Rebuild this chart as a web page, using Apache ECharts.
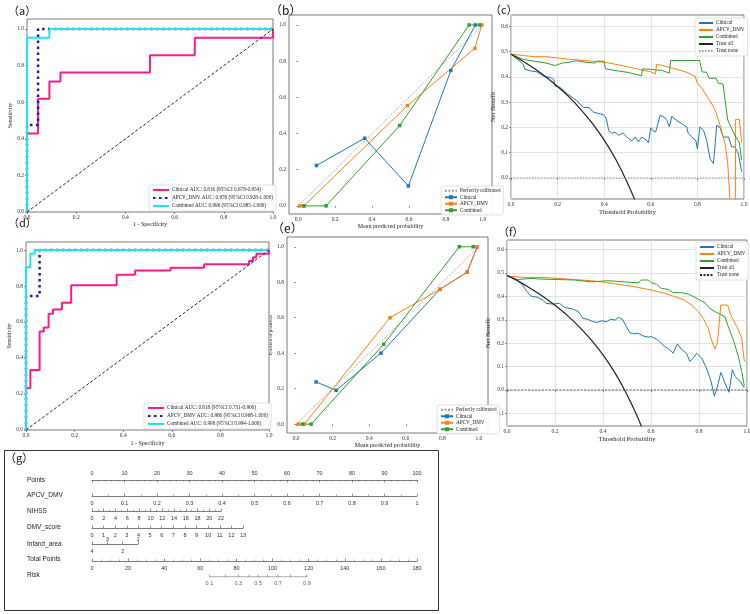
<!DOCTYPE html>
<html>
<head>
<meta charset="utf-8">
<script src="https://cdn.jsdelivr.net/npm/echarts@6/dist/echarts.min.js"></script>
<style>
html, body { margin: 0; padding: 0; background: #fff; }
#main { width: 750px; height: 614px; }
</style>
</head>
<body>
<div id="main"></div>
<script>
var SERIF = "'Liberation Serif', 'Times New Roman', serif";
var SANS = "'Liberation Sans', Arial, sans-serif";
var CJK = "'Noto Sans CJK SC', sans-serif";

// ---- (a) ROC, training ----
var rocA_clin_fpr = [0, 0, 0.045, 0.045, 0.091, 0.091, 0.136, 0.136, 0.5, 0.5, 0.682, 0.682, 1, 1];
var rocA_clin_tpr = [0, 0.429, 0.429, 0.619, 0.619, 0.714, 0.714, 0.762, 0.762, 0.857, 0.857, 0.952, 0.952, 1];
var rocA_apcv_fpr = [0, 0, 0.045, 0.045, 1];
var rocA_apcv_tpr = [0, 0.476, 0.476, 1, 1];
var rocA_comb_fpr = [0, 0, 0.091, 0.091, 1];
var rocA_comb_tpr = [0, 0.952, 0.952, 1, 1];
var rocA_names = ['Clinical AUC: 0.816 (95%CI 0.678-0.954)', 'APCV_DMV AUC: 0.976 (95%CI 0.928-1.000)', 'Combined AUC: 0.996 (95%CI 0.985-1.000)'];

// ---- (d) ROC, validation ----
var rocD_clin_fpr = [0, 0, 0.018, 0.018, 0.056, 0.056, 0.073, 0.073, 0.093, 0.093, 0.111, 0.111, 0.148, 0.148, 0.186, 0.186, 0.373, 0.373, 0.449, 0.449, 0.595, 0.595, 0.733, 0.733, 0.918, 0.918, 0.934, 0.934, 0.948, 0.948, 1, 1];
var rocD_clin_tpr = [0, 0.232, 0.232, 0.333, 0.333, 0.548, 0.548, 0.57, 0.57, 0.646, 0.646, 0.67, 0.67, 0.707, 0.707, 0.804, 0.804, 0.863, 0.863, 0.886, 0.886, 0.902, 0.902, 0.922, 0.922, 0.94, 0.94, 0.96, 0.96, 0.98, 0.98, 1];
var rocD_apcv_fpr = [0, 0, 0.056, 0.056, 1];
var rocD_apcv_tpr = [0, 0.745, 0.745, 1, 1];
var rocD_comb_fpr = [0, 0, 0.018, 0.018, 0.036, 0.036, 1];
var rocD_comb_tpr = [0, 0.905, 0.905, 0.98, 0.98, 1, 1];
var rocD_names = ['Clinical AUC: 0.818 (95%CI 0.731-0.906)', 'APCV_DMV AUC: 0.986 (95%CI 0.968-1.000)', 'Combined AUC: 0.998 (95%CI 0.994-1.000)'];
var diagonal = [[0, 0], [1, 1]];

// ---- (b)/(e) calibration: [mean predicted, fraction of positives] ----
var calB_clin = [[0.099, 0.223], [0.36, 0.374], [0.597, 0.11], [0.827, 0.748], [0.96, 1.0]];
var calB_apcv = [[0.009, 0], [0.031, 0], [0.592, 0.554], [0.957, 0.871], [0.995, 1.0]];
var calB_comb = [[0.031, 0], [0.151, 0], [0.55, 0.444], [0.926, 1.0], [0.984, 1.0]];
var calE_clin = [[0.109, 0.238], [0.219, 0.191], [0.464, 0.4], [0.787, 0.76], [0.936, 0.857], [0.991, 1.0]];
var calE_apcv = [[0.013, 0], [0.045, 0], [0.514, 0.6], [0.787, 0.76], [0.936, 0.857], [0.991, 1.0]];
var calE_comb = [[0.035, 0], [0.082, 0], [0.479, 0.45], [0.893, 1.0], [0.969, 1.0]];
var calNames = ['Perfectly calibrated', 'Clinical', 'APCV_DMV', 'Combined'];

// ---- (c)/(f) decision curves: [threshold, net benefit] ----
var dcaC_clin = [[0, 0.49], [0.05, 0.453], [0.06, 0.43], [0.083, 0.424], [0.111, 0.42], [0.14, 0.403], [0.169, 0.397], [0.183, 0.39], [0.19, 0.363], [0.211, 0.358], [0.24, 0.334], [0.28, 0.308], [0.311, 0.279], [0.334, 0.279], [0.354, 0.261], [0.377, 0.255], [0.397, 0.251], [0.409, 0.235], [0.419, 0.189], [0.433, 0.176], [0.447, 0.182], [0.461, 0.169], [0.48, 0.178], [0.497, 0.162], [0.519, 0.147], [0.533, 0.162], [0.547, 0.143], [0.561, 0.162], [0.583, 0.149], [0.59, 0.139], [0.6, 0.199], [0.611, 0.186], [0.621, 0.182], [0.64, 0.248], [0.657, 0.241], [0.669, 0.228], [0.68, 0.202], [0.69, 0.244], [0.711, 0.228], [0.733, 0.215], [0.754, 0.202], [0.761, 0.176], [0.776, 0.162], [0.793, 0.149], [0.8, 0.116], [0.811, 0.202], [0.826, 0.189], [0.84, 0.149], [0.854, 0.077], [0.869, 0.057], [0.883, 0.209], [0.897, 0.199], [0.911, 0.162], [0.933, 0.162], [0.947, 0.123], [0.961, 0.123], [0.976, 0.096], [0.99, 0.024]];
var dcaC_apcv = [[0, 0.49], [0.05, 0.485], [0.1, 0.48], [0.15, 0.48], [0.2, 0.475], [0.25, 0.47], [0.3, 0.466], [0.35, 0.462], [0.4, 0.458], [0.45, 0.45], [0.5, 0.44], [0.55, 0.43], [0.6, 0.42], [0.62, 0.412], [0.625, 0.45], [0.65, 0.445], [0.7, 0.433], [0.75, 0.42], [0.79, 0.403], [0.8, 0.375], [0.82, 0.355], [0.83, 0.34], [0.85, 0.31], [0.87, 0.28], [0.88, 0.26], [0.9, 0.2], [0.92, 0.13], [0.93, 0.06], [0.94, -0.09], [0.95, -0.3], [0.962, -0.3], [0.964, 0.232], [0.98, 0.232], [0.99, 0.14]];
var dcaC_comb = [[0, 0.49], [0.05, 0.47], [0.1, 0.462], [0.15, 0.455], [0.19, 0.445], [0.22, 0.455], [0.25, 0.458], [0.28, 0.464], [0.32, 0.458], [0.36, 0.455], [0.37, 0.463], [0.4, 0.462], [0.405, 0.432], [0.45, 0.425], [0.5, 0.418], [0.56, 0.405], [0.565, 0.432], [0.6, 0.43], [0.65, 0.425], [0.68, 0.415], [0.685, 0.465], [0.75, 0.465], [0.81, 0.465], [0.82, 0.42], [0.84, 0.418], [0.85, 0.395], [0.88, 0.395], [0.89, 0.375], [0.91, 0.372], [0.93, 0.23], [0.96, 0.17], [0.98, 0.14], [0.99, 0.07]];
var dcaF_clin = [[0, 0.487], [0.045, 0.47], [0.065, 0.448], [0.079, 0.427], [0.1, 0.401], [0.128, 0.396], [0.149, 0.384], [0.163, 0.37], [0.191, 0.367], [0.219, 0.37], [0.24, 0.353], [0.274, 0.346], [0.298, 0.335], [0.316, 0.306], [0.337, 0.302], [0.358, 0.292], [0.376, 0.288], [0.393, 0.296], [0.414, 0.292], [0.432, 0.302], [0.451, 0.299], [0.465, 0.311], [0.483, 0.299], [0.497, 0.271], [0.511, 0.245], [0.529, 0.24], [0.546, 0.243], [0.567, 0.231], [0.588, 0.226], [0.602, 0.228], [0.623, 0.217], [0.636, 0.207], [0.657, 0.186], [0.678, 0.172], [0.692, 0.157], [0.71, 0.197], [0.727, 0.174], [0.748, 0.157], [0.762, 0.122], [0.776, 0.136], [0.79, 0.157], [0.811, 0.136], [0.831, 0.094], [0.85, 0.037], [0.864, -0.027], [0.877, 0.016], [0.891, 0.075], [0.908, 0.03], [0.925, -0.01], [0.939, 0.087], [0.95, 0.058], [0.971, 0.037], [0.989, 0.009]];
var dcaF_apcv = [[0, 0.487], [0.072, 0.481], [0.142, 0.481], [0.212, 0.477], [0.281, 0.472], [0.351, 0.467], [0.393, 0.462], [0.462, 0.452], [0.532, 0.441], [0.602, 0.427], [0.657, 0.413], [0.692, 0.401], [0.734, 0.387], [0.769, 0.363], [0.797, 0.335], [0.818, 0.306], [0.838, 0.264], [0.852, 0.214], [0.866, 0.175], [0.877, 0.203], [0.891, 0.363], [0.919, 0.363], [0.933, 0.321], [0.95, 0.285], [0.964, 0.257], [0.978, 0.221], [0.985, 0.157], [0.989, 0.122]];
var dcaF_comb = [[0, 0.487], [0.045, 0.472], [0.1, 0.477], [0.142, 0.474], [0.212, 0.472], [0.281, 0.47], [0.351, 0.462], [0.421, 0.467], [0.49, 0.462], [0.546, 0.458], [0.56, 0.47], [0.588, 0.47], [0.602, 0.458], [0.623, 0.452], [0.643, 0.434], [0.671, 0.43], [0.692, 0.416], [0.727, 0.416], [0.755, 0.41], [0.783, 0.396], [0.804, 0.384], [0.824, 0.373], [0.845, 0.349], [0.866, 0.335], [0.887, 0.325], [0.908, 0.313], [0.922, 0.271], [0.943, 0.214], [0.964, 0.143], [0.978, 0.079], [0.989, 0.016]];
var treatAll = [[0, 0.49], [0.05, 0.463], [0.1, 0.433], [0.15, 0.4], [0.2, 0.362], [0.25, 0.32], [0.3, 0.271], [0.35, 0.215], [0.4, 0.15], [0.45, 0.073], [0.5, -0.02], [0.55, -0.13], [0.6, -0.27]];
var treatNone = [[0, 0], [1, 0]];
var dcaNames = ['Clinical', 'APCV_DMV', 'Combined', 'Treat all', 'Treat none'];

// ---- (g) nomogram ----
var nomoRows = ['Points', 'APCV_DMV', 'NIHSS', 'DMV_score', 'Infarct_area', 'Total Points', 'Risk'];
var riskVals = [0.1, 0.2, 0.3, 0.4, 0.5, 0.6, 0.7, 0.8, 0.9];
var riskTotalPts = [65, 74, 81, 87, 92, 97, 103, 110, 119];
var riskShown = [0.1, 0.3, 0.5, 0.7, 0.9];

var tick01 = [0, 0.2, 0.4, 0.6, 0.8, 1.0];
var tickC = [0, 0.1, 0.2, 0.3, 0.4, 0.5, 0.6];
var tickF = [-0.1, 0, 0.1, 0.2, 0.3, 0.4, 0.5, 0.6];

function zip(xs, ys) { return xs.map(function (x, i) { return [x, ys[i]]; }); }
function strip(n) { return n.split('|')[1]; }

function plotGrid(l, t, w, h) {
    return {left: l, top: t, width: w, height: h, show: true, borderColor: '#555', borderWidth: 0.8, outerBoundsMode: 'none', containLabel: false};
}
function plotAxis(gi, min, max, ticks, name, gap, split) {
    return {
        type: 'value', gridIndex: gi, min: min, max: max,
        name: name, nameLocation: 'middle', nameGap: gap,
        nameTextStyle: {fontSize: 6, fontFamily: SERIF, color: '#222'},
        axisLine: {show: false},
        axisTick: {show: true, length: 2, customValues: ticks, lineStyle: {color: '#444', width: 0.6}},
        axisLabel: {fontSize: 5.5, fontFamily: SERIF, color: '#333', margin: 3, customValues: ticks,
            formatter: function (v) { return v.toFixed(1); }},
        splitLine: {show: !!split, lineStyle: {color: '#dcdcdc', width: 0.8}}
    };
}
function ln(name, gi, data, color, width, type, extra) {
    var s = {type: 'line', name: name, xAxisIndex: gi, yAxisIndex: gi, data: data, symbol: 'none',
        lineStyle: {color: color, width: width, type: type || 'solid'}, itemStyle: {color: color},
        clip: true, silent: true, z: 2};
    for (var k in extra) s[k] = extra[k];
    return s;
}
// legend entries; lines without markers get their marker hidden
function legendBox(left, top, names, noMarker, gap, lh, iw) {
    var data = names.map(function (n) {
        return noMarker.indexOf(n) >= 0 ? {name: n, itemStyle: {opacity: 0}} : {name: n};
    });
    return {left: left, top: top, orient: 'vertical', data: data, itemWidth: iw, itemHeight: 5, itemGap: gap,
        selectedMode: false, backgroundColor: 'rgba(255,255,255,0.9)', borderColor: '#cfcfcf', borderWidth: 0.6,
        borderRadius: 2, padding: [2, 3, 2, 3], formatter: strip,
        textStyle: {fontSize: 5.2, lineHeight: lh, fontFamily: SERIF, color: '#222', padding: [0, 0, 0, -2]}};
}
function prefixed(p, arr) { return arr.map(function (n) { return p + '|' + n; }); }

var pink = '#ff1a8c', navy = '#1c1c96', cyan = '#19e6ee';
var blue = '#1f77b4', orange = '#ff7f0e', green = '#2ca02c';

var grids = [
    plotGrid(27, 19, 246, 193),   // a
    plotGrid(289, 15, 203, 199),  // b
    plotGrid(511, 15, 233, 184),  // c
    plotGrid(26, 242, 243, 188),  // d
    plotGrid(287, 237, 201, 196), // e
    plotGrid(507, 240, 240, 186)  // f
];
var xAxes = [
    plotAxis(0, 0, 1, tick01, '1 - Specificity', 9),
    plotAxis(1, -0.05, 1.05, tick01, 'Mean predicted probability', 9),
    plotAxis(2, 0, 1, tick01, 'Threshold Probability', 7, true),
    plotAxis(3, 0, 1, tick01, '1 - Specificity', 10),
    plotAxis(4, -0.05, 1.05, tick01, 'Mean predicted probability', 6),
    plotAxis(5, 0, 1, tick01, 'Threshold Probability', 9, true)
];
var yAxes = [
    plotAxis(0, 0, 1.055, tick01, 'Sensitivity', 10),
    plotAxis(1, -0.045, 1.055, tick01, '', 12),
    plotAxis(2, -0.083, 0.645, tickC, 'Net Benefit', 9, true),
    plotAxis(3, 0, 1.045, tick01, 'Sensitivity', 10),
    plotAxis(4, -0.05, 1.055, tick01, 'Fraction of positives', 7),
    plotAxis(5, -0.154, 0.641, tickF, 'Net Benefit', 10, true)
];
xAxes[2].nameTextStyle.fontSize = 6.5; xAxes[5].nameTextStyle.fontSize = 6.5;
yAxes[2].nameTextStyle.fontSize = 6.5; yAxes[5].nameTextStyle.fontSize = 6.5;
yAxes[4].nameTextStyle.fontSize = 5;

// nomogram rows: each row is its own thin grid with its own scale
var nomoLine = {show: true, lineStyle: {color: '#444', width: 0.7}};
var nomoTick = {show: true, inside: true, length: 2.5, lineStyle: {color: '#444', width: 0.6}};
var nomoLabel = {fontSize: 5.5, fontFamily: SANS, color: '#333', margin: 4};
function nomoGrid(l, y, w) {
    return {left: l, top: y - 1, width: w, height: 1, show: false, outerBoundsMode: 'none', containLabel: false};
}
function nomoAxis(gi, min, max, interval, pos, minor, extra) {
    var a = {type: 'value', gridIndex: gi, position: pos, min: min, max: max, interval: interval,
        axisLine: nomoLine, axisTick: nomoTick, axisLabel: nomoLabel, splitLine: {show: false},
        minorTick: {show: !!minor, splitNumber: minor || 5, length: 1.5, lineStyle: {color: '#555', width: 0.5}},
        minorSplitLine: {show: false}};
    for (var k in extra) a[k] = extra[k];
    return a;
}
grids.push(nomoGrid(92, 480, 325));   // 6 Points
grids.push(nomoGrid(92, 496, 325));   // 7 APCV_DMV
grids.push(nomoGrid(92, 511, 129));   // 8 NIHSS
grids.push(nomoGrid(92, 528, 151));   // 9 DMV_score
grids.push(nomoGrid(92, 544, 46));    // 10 Infarct_area
grids.push(nomoGrid(92, 561, 325));   // 11 Total Points
grids.push(nomoGrid(92, 577, 325));   // 12 Risk
grids[6].top = 479;

xAxes.push(nomoAxis(6, 0, 100, 10, 'top', 5, {axisLabel: {fontSize: 5.5, fontFamily: SANS, color: '#333', margin: 3}}));
xAxes.push(nomoAxis(7, 0, 1, 0.1, 'bottom', 2));
xAxes.push(nomoAxis(8, 0, 22, 2, 'bottom', 2));
xAxes.push(nomoAxis(9, 0, 13, 1, 'bottom', 0));
xAxes.push(nomoAxis(10, 1, 4, 1, 'bottom', 0, {inverse: true, axisLabel: {fontSize: 5.5, fontFamily: SANS, color: '#333', margin: 4,
    formatter: function (v) { return (v === 4 || v === 2) ? String(v) : ''; }}}));
xAxes.push(nomoAxis(11, 0, 180, 20, 'bottom', 4));
xAxes.push({type: 'value', gridIndex: 12, min: 0, max: 180, show: false});
xAxes.push(nomoAxis(10, 1, 4, 1, 'top', 0, {inverse: true, axisLine: {show: false}, axisTick: {show: false},
    axisLabel: {fontSize: 5.5, fontFamily: SANS, color: '#333', margin: 1,
        formatter: function (v) { return (v === 3 || v === 1) ? String(v) : ''; }}}));
for (var gi = 6; gi <= 12; gi++) yAxes.push({type: 'value', gridIndex: gi, min: 0, max: 1, show: false});

var series = [
    // (a)
    ln('a|' + rocA_names[0], 0, zip(rocA_clin_fpr, rocA_clin_tpr), pink, 2),
    ln('a|' + rocA_names[1], 0, zip(rocA_apcv_fpr, rocA_apcv_tpr), navy, 2.5, [2.5, 3.5]),
    ln('a|' + rocA_names[2], 0, zip(rocA_comb_fpr, rocA_comb_tpr), cyan, 2),
    ln('a|diag', 0, diagonal, '#111', 0.9, [3, 2]),
    // (d)
    ln('d|' + rocD_names[0], 3, zip(rocD_clin_fpr, rocD_clin_tpr), pink, 2),
    ln('d|' + rocD_names[1], 3, zip(rocD_apcv_fpr, rocD_apcv_tpr), navy, 2.5, [2.5, 3.5]),
    ln('d|' + rocD_names[2], 3, zip(rocD_comb_fpr, rocD_comb_tpr), cyan, 2),
    ln('d|diag', 3, diagonal, '#111', 0.9, [3, 2])
];
// calibration panels
[[1, 'b', calB_clin, calB_apcv, calB_comb], [4, 'e', calE_clin, calE_apcv, calE_comb]].forEach(function (p) {
    var mk = {symbol: 'rect', symbolSize: 3.5, showSymbol: true};
    series.push(ln(p[1] + '|' + calNames[0], p[0], diagonal, '#9a9a9a', 0.8, [2, 1.5]));
    series.push(ln(p[1] + '|' + calNames[1], p[0], p[2], blue, 1, 'solid', mk));
    series.push(ln(p[1] + '|' + calNames[2], p[0], p[3], orange, 1, 'solid', mk));
    series.push(ln(p[1] + '|' + calNames[3], p[0], p[4], green, 1, 'solid', mk));
});
// decision curves
series.push(ln('c|Clinical', 2, dcaC_clin, blue, 1));
series.push(ln('c|APCV_DMV', 2, dcaC_apcv, orange, 1));
series.push(ln('c|Combined', 2, dcaC_comb, green, 1));
series.push(ln('c|Treat all', 2, treatAll, '#222', 1.2, 'solid', {smooth: 0.3}));
series.push(ln('c|Treat none', 2, treatNone, '#999', 1, [1.5, 1.5]));
series.push(ln('f|Clinical', 5, dcaF_clin, blue, 1));
series.push(ln('f|APCV_DMV', 5, dcaF_apcv, orange, 1));
series.push(ln('f|Combined', 5, dcaF_comb, green, 1));
series.push(ln('f|Treat all', 5, treatAll, '#222', 1.2, 'solid', {smooth: 0.3}));
series.push(ln('f|Treat none', 5, treatNone, '#222', 0.7, [2, 1.5]));

// risk scale of the nomogram, placed on the total-points scale
var riskData = riskTotalPts.map(function (p) { return [p, 0]; });
series.push(ln('g|risk', 12, [riskData[0], riskData[riskData.length - 1]], '#444', 0.7));
series.push({type: 'scatter', xAxisIndex: 12, yAxisIndex: 12, data: riskData, symbol: 'rect',
    symbolSize: [0.6, 2.5], symbolOffset: [0, -1.2], itemStyle: {color: '#444'}, silent: true,
    label: {show: true, position: 'bottom', distance: 3, fontSize: 5.5, fontFamily: SANS, color: '#333',
        formatter: function (p) { var v = riskVals[p.dataIndex]; return riskShown.indexOf(v) >= 0 ? String(v) : ''; }}});

var rocA_leg = prefixed('a', rocA_names), rocD_leg = prefixed('d', rocD_names);
var calB_leg = prefixed('b', calNames), calE_leg = prefixed('e', calNames);
var dcaC_leg = prefixed('c', dcaNames), dcaF_leg = prefixed('f', dcaNames);
var legends = [
    legendBox(149, 185, rocA_leg, rocA_leg, 2, 6, 16),
    legendBox(144, 403, rocD_leg, rocD_leg, 2, 6, 16),
    legendBox(441, 186, calB_leg, [calB_leg[0]], 1, 5.5, 12),
    legendBox(437, 405, calE_leg, [calE_leg[0]], 1, 5.5, 12),
    legendBox(695, 18, dcaC_leg, dcaC_leg, 1, 6, 14),
    legendBox(696, 242, dcaF_leg, dcaF_leg, 1, 6, 14)
];

function panelTitle(t, l, top, fs) {
    return {text: t, left: l, top: top, padding: 0,
        textStyle: {fontSize: fs || 11, fontWeight: 'normal', fontFamily: CJK, color: '#111'}};
}
var titles = [
    panelTitle('（a）', 8, 5), panelTitle('（b）', 270, 4, 12), panelTitle('（c）', 490, 4),
    panelTitle('（d）', 8, 217), panelTitle('（e）', 272, 222, 12), panelTitle('（f）', 498, 226),
    panelTitle('（g）', 5, 452)
];

var rowY = [480, 495, 511, 527, 544, 559, 575];
var graphic = [{type: 'rect', shape: {x: 4.5, y: 450.5, width: 434, height: 160},
    style: {fill: 'none', stroke: '#333', lineWidth: 1}}];
nomoRows.forEach(function (r, i) {
    graphic.push({type: 'text', x: 27, y: rowY[i],
        style: {text: r, fontSize: 6.5, fontFamily: SANS, fill: '#222', verticalAlign: 'middle'}});
});

var chart = echarts.init(document.getElementById('main'));
chart.setOption({
    animation: false,
    backgroundColor: '#fff',
    title: titles,
    grid: grids,
    xAxis: xAxes,
    yAxis: yAxes,
    legend: legends,
    graphic: graphic,
    series: series
});
</script>
</body>
</html>
